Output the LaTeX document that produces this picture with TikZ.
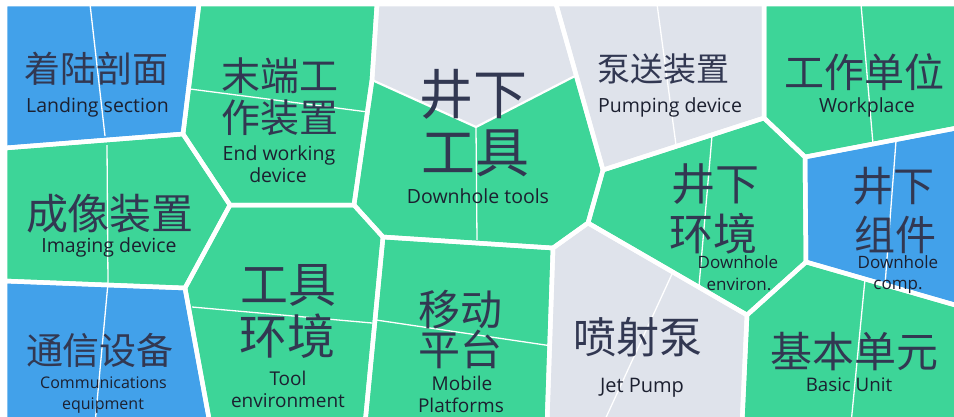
\documentclass[tikz,border=0pt]{standalone}
\usepackage{fontspec}
\setmainfont{Open Sans}
\newfontfamily\cjk{Noto Sans CJK SC}
\usetikzlibrary{calc}
\definecolor{cblue}{HTML}{42A1EA}
\definecolor{cgreen}{HTML}{3DD598}
\definecolor{cgray}{HTML}{DFE3EB}
\definecolor{cncol}{HTML}{323852}
\definecolor{encol}{HTML}{1C2030}
\tikzset{
  border/.style={draw=white, line width=4.5pt, line join=round},
  subline/.style={draw=white, line width=1.3pt},
  vline/.style={draw=white, line width=2.2pt, line join=round},
  cn/.style={inner sep=0pt, anchor=base, text=cncol, font=\cjk\fontsize{#1}{#1}\selectfont},
  en/.style={inner sep=0pt, anchor=base, text=encol, font=\fontsize{#1}{#1}\selectfont},
}
\begin{document}
\begin{tikzpicture}[x=1pt,y=-1pt]
\useasboundingbox (0,0) rectangle (954,416);
\fill[white] (0,0) rectangle (954,416);
% outer corners
\coordinate (TL) at (5,4);
\coordinate (TR) at (962,4);
\coordinate (BL) at (5,424);
\coordinate (BR) at (962,424);
% junctions
\coordinate (A) at (199,4);
\coordinate (B) at (183,134);
\coordinate (C) at (5,148);
\coordinate (D) at (230,205);
\coordinate (E) at (185,288);
\coordinate (F) at (5,281);
\coordinate (G) at (210,424);
\coordinate (H) at (354,205);
\coordinate (I) at (377,4);
\coordinate (Iv) at (372,80);
\coordinate (J) at (383,237);
\coordinate (K) at (365,424);
\coordinate (L) at (553,248);
\coordinate (M) at (547,424);
\coordinate (N) at (588,223);
\coordinate (O) at (603,170);
\coordinate (P) at (556,4);
\coordinate (Q) at (764,118);
\coordinate (R) at (764,4);
\coordinate (S) at (805,157);
\coordinate (T) at (962,127);
\coordinate (U) at (806,262);
\coordinate (V) at (962,307);
\coordinate (W) at (747,315);
\coordinate (X) at (742,424);
\coordinate (Vm) at (476,127);
\coordinate (Vr) at ($(P)!0.43!(O)$);
% fills
\fill[cblue]  (TL) -- (A) -- (B) -- (C) -- cycle;
\fill[cgreen] (A) -- (I) -- (Iv) -- (H) -- (D) -- (B) -- cycle;
\fill[cgreen] (C) -- (B) -- (D) -- (E) -- (F) -- cycle;
\fill[cblue]  (F) -- (E) -- (G) -- (BL) -- cycle;
\fill[cgreen] (D) -- (H) -- (J) -- (K) -- (G) -- (E) -- cycle;
\fill[cgreen] (I) -- (P) -- (O) -- (N) -- (L) -- (J) -- (H) -- (Iv) -- cycle;
\fill[cgray]  (I) -- (P) -- (Vr) -- (Vm) -- (Iv) -- cycle;
\fill[cgreen] (J) -- (L) -- (M) -- (K) -- cycle;
\fill[cgray]  (L) -- (N) -- (W) -- (X) -- (M) -- cycle;
\fill[cgray]  (P) -- (R) -- (Q) -- (O) -- cycle;
\fill[cgreen] (O) -- (Q) -- (S) -- (U) -- (W) -- (N) -- cycle;
\fill[cgreen] (R) -- (TR) -- (T) -- (S) -- (Q) -- cycle;
\fill[cblue]  (S) -- (T) -- (V) -- (U) -- cycle;
\fill[cgreen] (U) -- (V) -- (BR) -- (X) -- (W) -- cycle;
% thin interior lines
\coordinate (l1a) at (90,4);   \coordinate (l1b) at (105,136);
\coordinate (l2a) at (190,89); \coordinate (l2b) at (368,112);
\coordinate (l3a) at (107,145);\coordinate (l3b) at (108,283);
\coordinate (l4a) at (108,283);\coordinate (l4b) at (95,424);
\coordinate (l5a) at (192,307);\coordinate (l5b) at (372,323);
\coordinate (l6a) at (376,320);\coordinate (l6b) at (552,346);
\coordinate (l7b) at (477,240);
\coordinate (l8a) at (657,4);  \coordinate (l8b) at (676,145);
\coordinate (l9a) at (712,136);\coordinate (l9b) at (699,286);
\coordinate (l10a) at (672,274);\coordinate (l10b) at (603,424);
\coordinate (l11a) at (861,4); \coordinate (l11b) at (873,144);
\coordinate (l12a) at (896,141);\coordinate (l12b) at (885,285);
\coordinate (l13a) at (865,279);\coordinate (l13b) at (851,424);
\foreach \a/\b in {l1a/l1b,l2a/l2b,l3a/l3b,l4a/l4b,l5a/l5b,l6a/l6b,Vm/l7b,l8a/l8b,l9a/l9b,l10a/l10b,l11a/l11b,l12a/l12b,l13a/l13b}
  \draw[subline] (\a) -- (\b);
\draw[vline] (Iv) -- (Vm) -- (Vr);
% borders
\draw[border] (TL) -- (A) -- (B) -- (C) -- cycle;
\draw[border] (A) -- (I) -- (Iv) -- (H) -- (D) -- (B) -- cycle;
\draw[border] (C) -- (B) -- (D) -- (E) -- (F) -- cycle;
\draw[border] (F) -- (E) -- (G) -- (BL) -- cycle;
\draw[border] (D) -- (H) -- (J) -- (K) -- (G) -- (E) -- cycle;
\draw[border] (I) -- (P) -- (O) -- (N) -- (L) -- (J) -- (H) -- (Iv) -- cycle;
\draw[border] (J) -- (L) -- (M) -- (K) -- cycle;
\draw[border] (L) -- (N) -- (W) -- (X) -- (M) -- cycle;
\draw[border] (P) -- (R) -- (Q) -- (O) -- cycle;
\draw[border] (O) -- (Q) -- (S) -- (U) -- (W) -- (N) -- cycle;
\draw[border] (R) -- (TR) -- (T) -- (S) -- (Q) -- cycle;
\draw[border] (S) -- (T) -- (V) -- (U) -- cycle;
\draw[border] (U) -- (V) -- (BR) -- (X) -- (W) -- cycle;
% labels
\node[cn=36] (t1) at (96,82.7) {着陆剖面};
\node[en=19.5] (e1) at (97.5,112) {Landing section};
\node[cn=39] (t2a) at (280,90.8) {末端工};
\node[cn=39] (t2b) at (280,132.8) {作装置};
\node[en=19.5] (e2a) at (279,160) {End working};
\node[en=19.5] (e2b) at (278,182) {device};
\node[cn=54] (t3a) at (473,114.5) {井下};
\node[cn=54] (t3b) at (475,172.5) {工具};
\node[en=19.5] (e3) at (478,203) {Downhole tools};
\node[cn=33] (t4) at (663,81.5) {泵送装置};
\node[en=19.5] (e4) at (670,112) {Pumping device};
\node[cn=40] (t5) at (864,87.2) {工作单位};
\node[en=19.5] (e5) at (867,112) {Workplace};
\node[cn=42] (t6) at (110,229) {成像装置};
\node[en=19.5] (e6) at (109,252) {Imaging device};
\node[cn=44] (t7a) at (715,200.7) {井下};
\node[cn=44] (t7b) at (713,250.7) {环境};
\node[en=17] (e7a) at (738,268) {Downhole};
\node[en=17] (e7b) at (739,290) {environ.};
\node[cn=41] (t8a) at (893,201.6) {井下};
\node[cn=41] (t8b) at (895,250.6) {组件};
\node[en=17] (e8a) at (898,268) {Downhole};
\node[en=17] (e8b) at (898,289) {comp.};
\node[cn=48] (t9a) at (288,302.2) {工具};
\node[cn=48] (t9b) at (287,354.2) {环境};
\node[en=19] (e9a) at (288,385) {Tool};
\node[en=19] (e9b) at (288,407) {environment};
\node[cn=42] (t10a) at (460,325) {移动};
\node[cn=42] (t10b) at (460,365) {平台};
\node[en=19] (e10a) at (462,390) {Mobile};
\node[en=19] (e10b) at (461,412) {Platforms};
\node[cn=37] (t11) at (100,364) {通信设备};
\node[en=16] (e11a) at (103.5,388) {Communications};
\node[en=16] (e11b) at (103,409) {equipment};
\node[cn=43] (t12) at (638,353.3) {喷射泵};
\node[en=20] (e12) at (642,392) {Jet Pump};
\node[cn=42] (t13) at (854,367) {基本单元};
\node[en=18.7] (e13) at (849,391) {Basic Unit};
\end{tikzpicture}
\end{document}
